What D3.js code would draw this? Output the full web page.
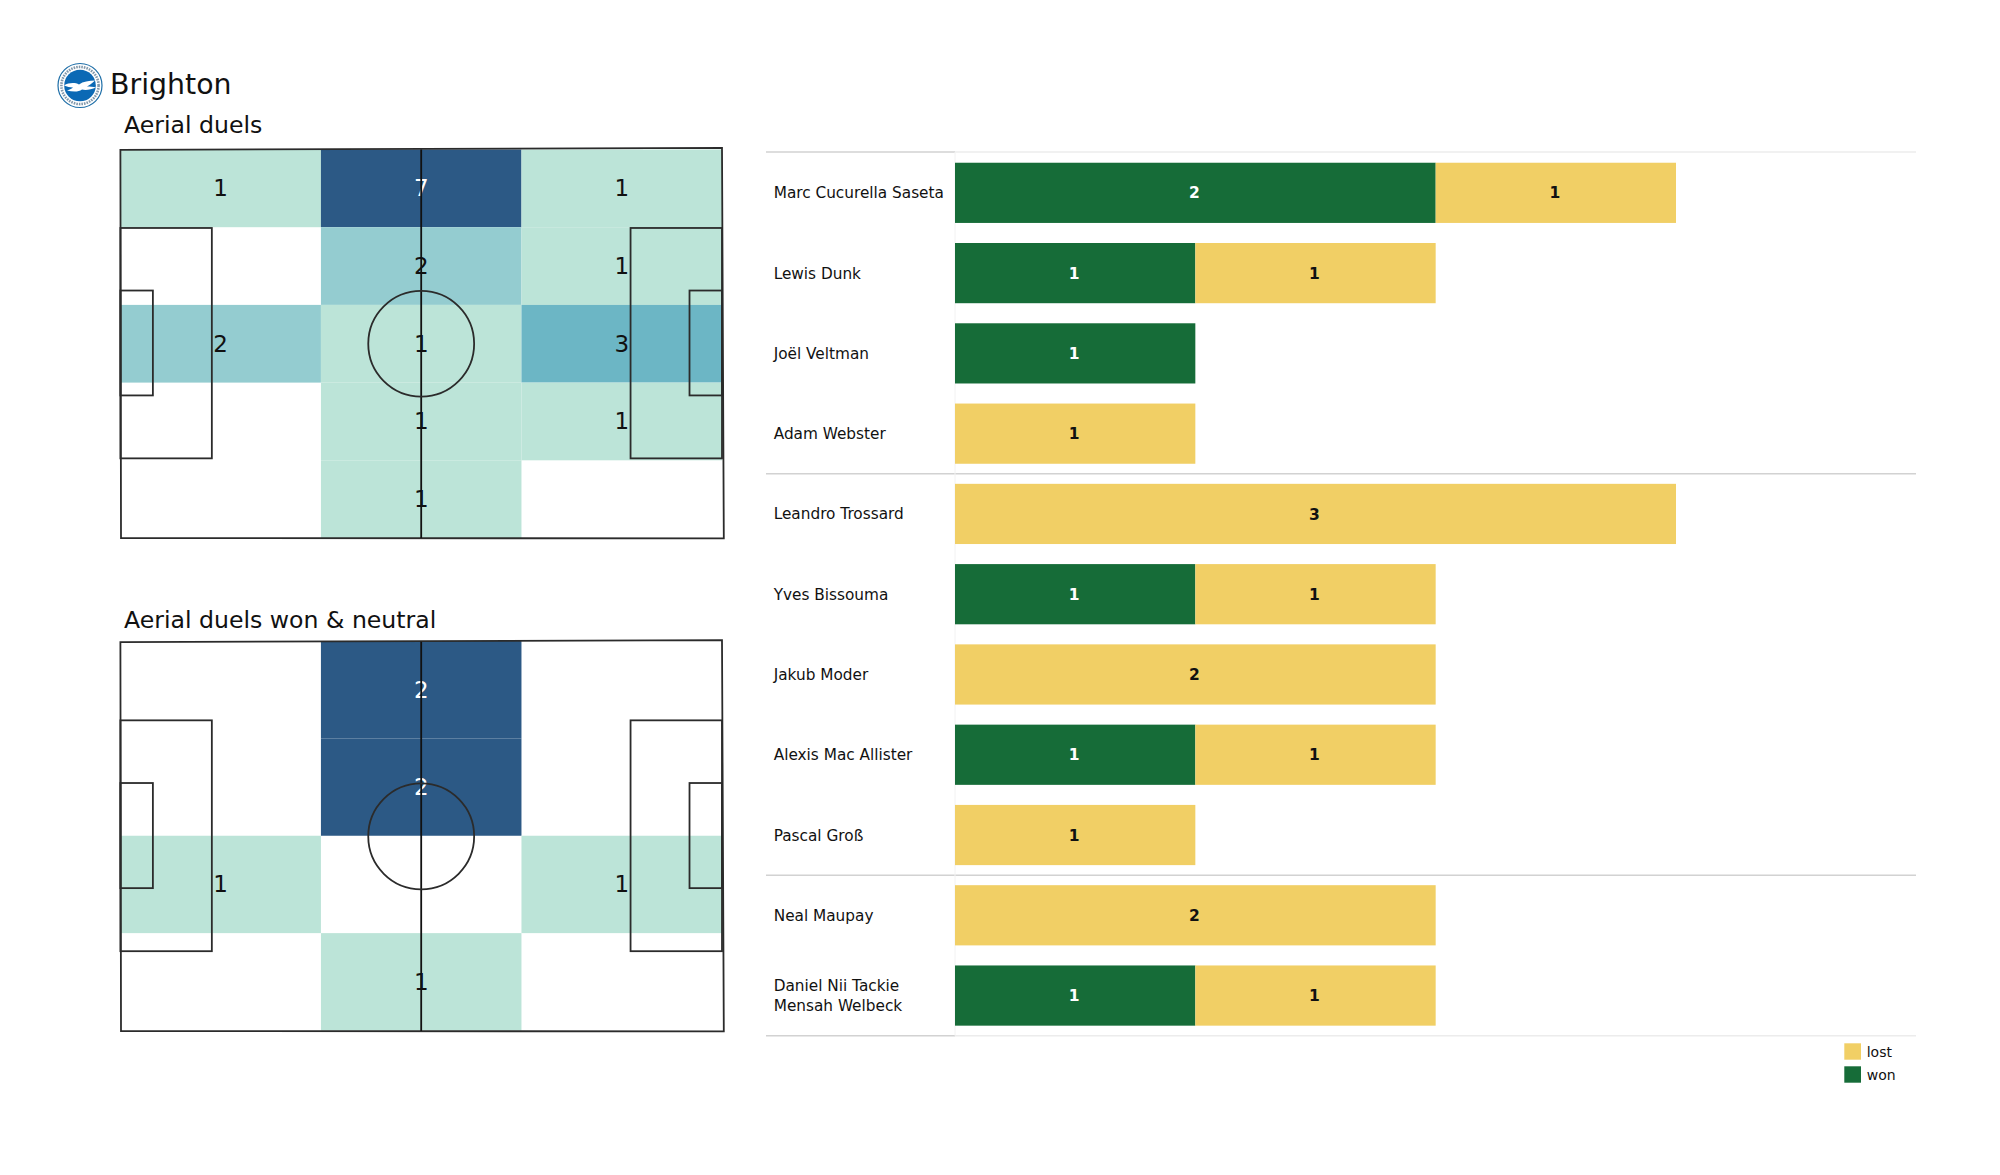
<!DOCTYPE html>
<html>
<head>
<meta charset="utf-8">
<script src="https://cdn.jsdelivr.net/npm/d3@7"></script>
<style>
  html, body { margin: 0; background: #fff; }
  svg { display: block; font-family: "DejaVu Sans", sans-serif; }
</style>
</head>
<body>
<svg id="chart" width="2000" height="1175"></svg>
<script>
// heatmap counts, top row first, left column first
const allDuels = [
  [1, 7, 1],
  [0, 2, 1],
  [2, 1, 3],
  [0, 1, 1],
  [0, 1, 0],
];
const wonNeutralDuels = [
  [0, 2, 0],
  [0, 2, 0],
  [1, 0, 1],
  [0, 1, 0],
];

const players = [
  "Marc Cucurella Saseta",
  "Lewis Dunk",
  "Joël Veltman",
  "Adam Webster",
  "Leandro Trossard",
  "Yves Bissouma",
  "Jakub Moder",
  "Alexis Mac Allister",
  "Pascal Groß",
  "Neal Maupay",
  "Daniel Nii Tackie\nMensah Welbeck",
];
const won = [2, 1, 1, 0, 0, 1, 0, 1, 0, 0, 1];
const lost = [1, 1, 0, 1, 3, 1, 2, 1, 1, 2, 1];
const groupEnds = ["Adam Webster", "Pascal Groß"];

const legendItems = ["lost", "won"];

const colors = { won: "#166c38", lost: "#f1cf65" };
const heatStops = [0, 1 / 6, 2 / 6, 1];
const heatColors = ["#bce4d8", "#94ccd0", "#6cb6c5", "#2c5985"];

const svg = d3.select("#chart");

// Title
svg.append("text").attr("x", 110).attr("y", 94)
  .attr("font-size", 28.4).attr("fill", "#111").text("Brighton");

// Crest
function drawCrest() {
  const g = svg.append("g").attr("transform", "translate(80,85.5)");
  g.append("circle").attr("r", 22).attr("fill", "#fff")
    .attr("stroke", "#1f6fa8").attr("stroke-width", 1.2);
  g.append("circle").attr("r", 18.6).attr("fill", "none")
    .attr("stroke", "#8298ab").attr("stroke-width", 2.6).attr("stroke-dasharray", "1.6 1");
  g.append("circle").attr("r", 15.8).attr("fill", "#0b69b5");
  // seagull
  g.append("path")
    .attr("d", "M-16,0 C-11,-3 -5,-3 -1,-1 C3,-4 9,-5 15,-5 C12,-2 9,0 7,1 C10,1 13,1 16,2 C11,4 6,5 2,4 C-2,7 -8,6 -13,5 C-10,4 -8,3 -7,2 C-10,2 -13,1 -16,0 Z")
    .attr("fill", "#fff");
}
drawCrest();

// corners of the drawn pitch frame, the original is very slightly out of square
const frameCorners = [[0, 0.1], [100, -0.4], [100.3, 100.1], [0.1, 100]];

// Pitch heatmap, markings are given in percent of pitch length and width
function drawPitch(grid, title, titleY, top, bottom, left, right, rowTop, rowBottom) {
  const x = d3.scaleLinear().domain([0, 100]).range([left, right]);
  const y = d3.scaleLinear().domain([0, 100]).range([top, bottom]);
  const col = d3.scaleBand().domain(d3.range(3)).range([left, right]);
  const row = d3.scaleBand().domain(d3.range(grid.length)).range([rowTop, rowBottom]);

  const maxValue = d3.max(grid.flat());
  const minValue = d3.min(grid.flat().filter((d) => d > 0));
  const norm = d3.scaleLinear().domain([minValue, maxValue]).range([0, 1]);
  const heat = d3.scaleLinear().domain(heatStops).range(heatColors);

  svg.append("text").attr("x", 124).attr("y", titleY)
    .attr("font-size", 23.6).attr("fill", "#111").text(title);

  const cells = grid.flatMap((r, i) =>
    r.map((value, j) => ({ value, i, j }))
  ).filter((d) => d.value > 0);

  const g = svg.append("g");

  g.selectAll("rect")
    .data(cells)
    .enter()
    .append("rect")
    .attr("x", (d) => col(d.j))
    .attr("y", (d) => row(d.i))
    .attr("width", col.bandwidth())
    .attr("height", row.bandwidth())
    .attr("fill", (d) => heat(norm(d.value)));

  g.selectAll("text")
    .data(cells)
    .enter()
    .append("text")
    .attr("x", (d) => col(d.j) + col.bandwidth() / 2)
    .attr("y", (d) => row(d.i) + row.bandwidth() / 2 - 0.5)
    .attr("dy", "0.365em")
    .attr("text-anchor", "middle")
    .attr("font-size", 23)
    .attr("fill", (d) => (d.value === maxValue ? "#fff" : "#111"))
    .text((d) => d.value);

  // Markings
  const lines = svg.append("g")
    .attr("fill", "none").attr("stroke", "#2b2b2b").attr("stroke-width", 1.8);
  const box = (x0, x1, y0, y1) =>
    lines.append("rect")
      .attr("x", x(x0)).attr("y", y(y0))
      .attr("width", x(x1) - x(x0)).attr("height", y(y1) - y(y0));

  lines.append("path")
    .attr("d", d3.line().x((d) => x(d[0])).y((d) => y(d[1])).curve(d3.curveLinearClosed)(frameCorners));
  box(0, 15.2, 20.2, 79.5);
  box(84.8, 100, 20.2, 79.5);
  box(0, 5.4, 36.3, 63.3);
  box(94.6, 100, 36.3, 63.3);
  lines.append("line")
    .attr("x1", x(50)).attr("x2", x(50))
    .attr("y1", y(0)).attr("y2", y(100))
    .attr("stroke", "#111");
  lines.append("ellipse")
    .attr("cx", x(50)).attr("cy", y(50))
    .attr("rx", x(8.8) - x(0)).attr("ry", y(13.6) - y(0));
}

drawPitch(allDuels, "Aerial duels", 132.9, 149.5, 538, 120.4, 722, 149.5, 538);
drawPitch(wonNeutralDuels, "Aerial duels won & neutral", 627.7, 641.7, 1031, 120.4, 722, 641, 1030.5);

// Stacked bars
const xBar = d3.scaleLinear().domain([0, 3]).range([955, 1676]);
const yBar = d3.scaleBand().domain(players)
  .range([152.7, 1035.7]).paddingInner(0.25).paddingOuter(0.125);
const stepBar = yBar.step();

const rules = svg.append("g");
const rowEdge = (p) => yBar(p) + yBar.bandwidth() + (stepBar - yBar.bandwidth()) / 2;
const ruleRows = [
  { y: 152, major: false },
  ...groupEnds.map((p) => ({ y: rowEdge(p), major: true })),
  { y: 1035.7, major: false },
];

rules.selectAll(".rule-right")
  .data(ruleRows)
  .enter()
  .append("line")
  .attr("x1", xBar(0)).attr("x2", 1916)
  .attr("y1", (d) => d.y).attr("y2", (d) => d.y)
  .attr("stroke", (d) => (d.major ? "#d2d2d2" : "#ececec"))
  .attr("stroke-width", 1.5);
rules.selectAll(".rule-left")
  .data(ruleRows)
  .enter()
  .append("line")
  .attr("x1", 766).attr("x2", xBar(0))
  .attr("y1", (d) => d.y).attr("y2", (d) => d.y)
  .attr("stroke", "#d2d2d2")
  .attr("stroke-width", 1.5);
rules.append("line")
  .attr("x1", xBar(0)).attr("x2", xBar(0))
  .attr("y1", 152).attr("y2", 1035.7)
  .attr("stroke", "#f2f2f2");

const rows = players.map((name, i) => ({ name, won: won[i], lost: lost[i] }));
const stack = d3.stack().keys(["won", "lost"])(rows);

const layers = svg.append("g")
  .selectAll("g")
  .data(stack)
  .enter()
  .append("g");

layers.selectAll("rect")
  .data((s) => s.map((d) => ({ key: s.key, d })).filter((e) => e.d[1] > e.d[0]))
  .enter()
  .append("rect")
  .attr("x", (e) => xBar(e.d[0]))
  .attr("y", (e) => yBar(e.d.data.name))
  .attr("width", (e) => xBar(e.d[1]) - xBar(e.d[0]))
  .attr("height", yBar.bandwidth())
  .attr("fill", (e) => colors[e.key]);

layers.selectAll("text")
  .data((s) => s.map((d) => ({ key: s.key, d })).filter((e) => e.d[1] > e.d[0]))
  .enter()
  .append("text")
  .attr("x", (e) => (xBar(e.d[0]) + xBar(e.d[1])) / 2 - 1)
  .attr("y", (e) => yBar(e.d.data.name) + yBar.bandwidth() / 2)
  .attr("dy", "0.365em")
  .attr("text-anchor", "middle")
  .attr("font-size", 15.5)
  .attr("font-weight", "bold")
  .attr("fill", (e) => (e.key === "won" ? "#fff" : "#111"))
  .text((e) => e.d[1] - e.d[0]);

// Player labels
const labels = svg.append("g")
  .selectAll("text")
  .data(players)
  .enter()
  .append("text")
  .attr("font-size", 15.3)
  .attr("fill", "#111")
  .attr("y", (d) => yBar(d) + yBar.bandwidth() / 2);

labels.selectAll("tspan")
  .data((d) => {
    const parts = d.split("\n");
    return parts.map((t, i) => ({ t, i, n: parts.length }));
  })
  .enter()
  .append("tspan")
  .attr("x", 773.7)
  .attr("dy", (d) => (d.i === 0 ? `${0.36 - (d.n - 1) * 0.66}em` : "1.33em"))
  .text((d) => d.t);

// Legend
const legend = d3.scaleBand().domain(legendItems).range([1040, 1086]);
const legendRows = svg.append("g")
  .selectAll("g")
  .data(legendItems)
  .enter()
  .append("g")
  .attr("transform", (d) => `translate(0,${legend(d) + legend.bandwidth() / 2})`);

legendRows.append("rect")
  .attr("x", 1844.3).attr("y", -8.2)
  .attr("width", 16.7).attr("height", 16.4)
  .attr("fill", (d) => colors[d]);
legendRows.append("text")
  .attr("x", 1866.7)
  .attr("dy", "0.4em")
  .attr("font-size", 14)
  .attr("fill", "#111")
  .text((d) => d);
</script>
</body>
</html>
